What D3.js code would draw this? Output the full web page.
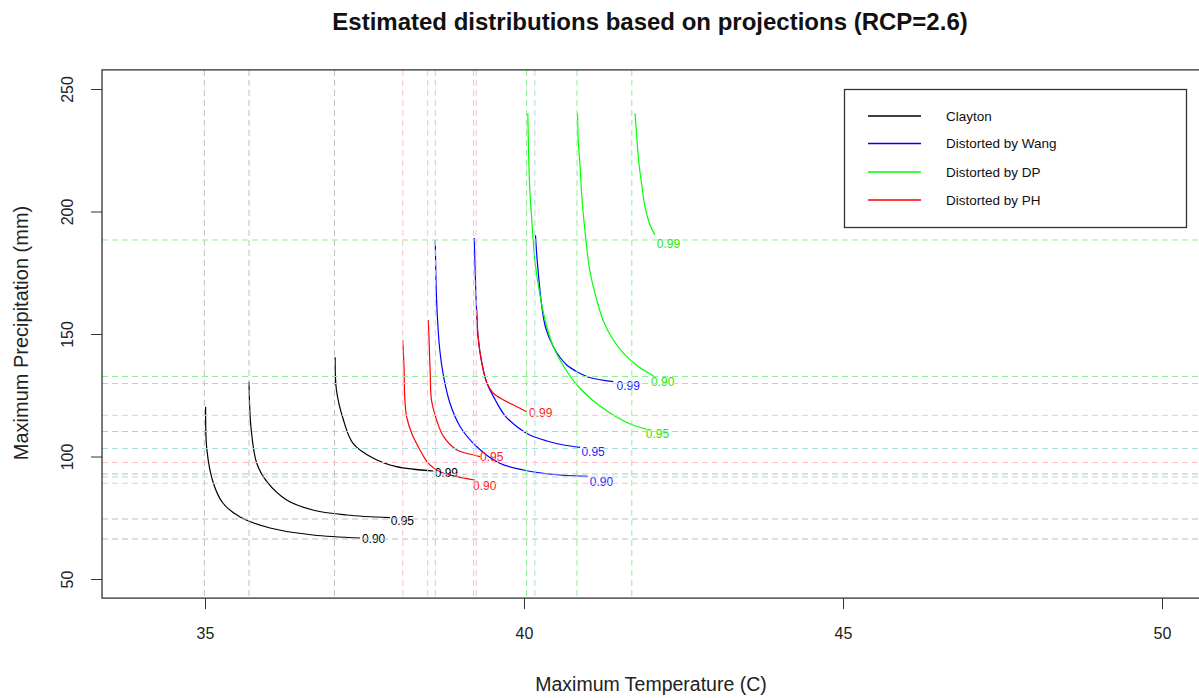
<!DOCTYPE html>
<html>
<head>
<meta charset="utf-8">
<script src="https://cdn.jsdelivr.net/npm/d3@7"></script>
<style>
  body { margin: 0; background: #fff; }
  svg { display: block; font-family: "Liberation Sans", Arial, sans-serif; }
</style>
</head>
<body>
<svg id="chart" width="1199" height="698"></svg>
<script>
// Probability levels of each contour, in drawing order
const levels = ["0.90", "0.95", "0.99"];
const families = ["Clayton", "Distorted by Wang", "Distorted by DP", "Distorted by PH"];
const xTicks = [35, 40, 45, 50];
const yTicks = [50, 100, 150, 200, 250];

// Contour curves: [max temperature (C), max precipitation (mm)], one list per level
const claytonCurves = [
  [[35.01,120.33],[35.03,102.65],[35.13,89.18],[35.28,81.02],[35.55,75.31],[36.02,70.82],[36.69,67.96],[37.43,66.73]],
  [[35.69,130.53],[35.72,112.16],[35.81,97.35],[35.97,89.71],[36.28,82.24],[36.69,78.16],[37.22,76.12],[37.90,75.02]],
  [[37.04,140.49],[37.06,127.14],[37.17,114.90],[37.32,105.39],[37.64,99.27],[38.00,95.84],[38.58,94.08]]
];
const wangCurves = [
  [[38.61,188.37],[38.63,163.88],[38.68,143.47],[38.74,132.57],[38.84,121.71],[39.00,112.16],[39.26,104.0],[39.62,97.22],[39.99,94.49],[40.56,92.45],[41.00,91.9]],
  [[39.22,189.18],[39.23,180.2],[39.25,163.88],[39.28,148.9],[39.34,138.04],[39.42,129.88],[39.55,123.06],[39.70,116.73],[39.89,112.16],[40.09,108.78],[40.36,106.33],[40.62,104.69],[40.88,103.76]],
  [[40.18,190.41],[40.20,182.24],[40.22,176.12],[40.28,161.14],[40.34,152.45],[40.46,144.82],[40.56,140.61],[40.67,137.35],[40.83,134.61],[41.03,132.24],[41.40,130.53]]
];
const dpCurves = [
  [[40.84,240.08],[40.85,229.18],[40.88,218.29],[40.91,204.69],[40.96,191.1],[41.03,176.12],[41.14,163.88],[41.25,154.9],[41.38,148.37],[41.56,142.12],[41.77,137.14],[42.03,132.86]],
  [[40.06,240.08],[40.07,225.92],[40.09,209.59],[40.12,197.35],[40.17,180.2],[40.22,170.69],[40.33,155.71],[40.46,144.82],[40.63,136.53],[40.83,129.18],[41.07,123.06],[41.35,117.76],[41.63,113.67],[41.92,111.1]],
  [[41.74,240.08],[41.76,233.27],[41.78,225.92],[41.81,217.76],[41.85,210.12],[41.88,204.29],[41.92,199.27],[41.97,194.9],[42.05,190.41]]
];
const phCurves = [
  [[38.10,147.55],[38.12,136.0],[38.13,124.41],[38.16,116.24],[38.24,109.47],[38.37,102.65],[38.50,97.22],[38.68,93.80],[38.95,91.76],[39.23,90.41]],
  [[38.50,155.71],[38.51,148.9],[38.53,133.96],[38.55,123.06],[38.63,114.9],[38.74,108.08],[38.95,102.65],[39.21,100.61],[39.31,99.92]],
  [[39.26,159.8],[39.28,148.9],[39.34,138.04],[39.42,129.88],[39.52,125.8],[39.68,123.06],[39.89,120.33],[40.04,118.29]]
];

// Marginal quantiles (reference lines), one per level
const claytonV = [34.99, 35.69, 37.03];
const claytonH = [66.33, 74.49, 92.86];
const wangV = [38.61, 39.21, 40.17];
const wangH = [91.63, 103.27, 129.8];
const dpV = [40.83, 40.04, 41.69];
const dpH = [132.65, 110.2, 188.37];
const phV = [38.10, 38.49, 39.25];
const phH = [89.06, 97.55, 116.8];

// Where each level label sits (left edge, middle)
const claytonLabels = [[37.46,66.33],[37.91,73.67],[38.60,93.27]];
const wangLabels = [[41.03,89.59],[40.90,101.96],[41.45,128.78]];
const dpLabels = [[41.99,130.41],[41.91,109.27],[42.08,186.94]];
const phLabels = [[39.20,87.96],[39.31,99.8],[40.08,117.76]];

const series = [
  { name: families[0], color: "#000000", ref: "#bebebe", text: "#000000", curves: claytonCurves, v: claytonV, h: claytonH, labels: claytonLabels },
  { name: families[1], color: "#0000ff", ref: "#add8e6", text: "#2222ff", curves: wangCurves, v: wangV, h: wangH, labels: wangLabels },
  { name: families[2], color: "#00ff00", ref: "#90ee90", text: "#22e800", curves: dpCurves, v: dpV, h: dpH, labels: dpLabels },
  { name: families[3], color: "#ff0000", ref: "#ffc0cb", text: "#ff2222", curves: phCurves, v: phV, h: phH, labels: phLabels }
];

const svg = d3.select("#chart");
const x = d3.scaleLinear().domain([35, 50]).range([205, 1162]);
const y = d3.scaleLinear().domain([50, 250]).range([579, 89]);
const xlim = [33.386, 50.65];
const ylim = [42.2, 257.8];
const plotLeft = x(xlim[0]), plotRight = x(xlim[1]), plotTop = y(ylim[1]), plotBottom = y(ylim[0]);

svg.append("defs").append("clipPath").attr("id", "plot-clip")
  .append("rect").attr("x", plotLeft).attr("y", plotTop)
  .attr("width", plotRight - plotLeft).attr("height", plotBottom - plotTop);

const plot = svg.append("g").attr("clip-path", "url(#plot-clip)");

const line = d3.line()
  .x(d => x(d[0])).y(d => y(d[1]))
  .curve(d3.curveCatmullRom.alpha(0.5));

// Contour curves
series.forEach(s => {
  plot.append("g").selectAll("path").data(s.curves).join("path")
    .attr("d", line)
    .attr("fill", "none")
    .attr("stroke", s.color)
    .attr("stroke-width", 1.2);
});

// Level labels
series.forEach(s => {
  plot.append("g").selectAll("text").data(s.labels).join("text")
    .attr("x", d => x(d[0]))
    .attr("y", d => y(d[1]))
    .attr("dy", "0.36em")
    .attr("font-size", 12)
    .attr("fill", s.text)
    .text((d, i) => levels[i]);
});

// Dashed quantile reference lines
series.forEach(s => {
  const g = plot.append("g").attr("stroke", s.ref).attr("stroke-width", 1).attr("stroke-dasharray", "6,4");
  g.selectAll("line.v").data(s.v).join("line").attr("class", "v")
    .attr("x1", d => x(d)).attr("x2", d => x(d)).attr("y1", plotTop).attr("y2", plotBottom);
  g.selectAll("line.h").data(s.h).join("line").attr("class", "h")
    .attr("x1", plotLeft).attr("x2", plotRight).attr("y1", d => y(d)).attr("y2", d => y(d));
});

// Plot frame
svg.append("rect")
  .attr("x", plotLeft).attr("y", plotTop)
  .attr("width", plotRight - plotLeft).attr("height", plotBottom - plotTop)
  .attr("fill", "none").attr("stroke", "#333").attr("stroke-width", 1.3);

// Axes
const xAxis = svg.append("g").attr("transform", `translate(0,${plotBottom})`)
  .call(d3.axisBottom(x).tickValues(xTicks).tickSize(11).tickPadding(19).tickFormat(d3.format("d")));
xAxis.select(".domain").remove();
xAxis.selectAll("line").attr("stroke", "#333");
xAxis.selectAll("text").attr("font-size", 16).attr("font-family", "Liberation Sans, Arial, sans-serif").attr("fill", "#222");

const yAxis = svg.append("g").attr("transform", `translate(${plotLeft},0)`)
  .call(d3.axisLeft(y).tickValues(yTicks).tickSize(11).tickFormat(d3.format("d")));
yAxis.select(".domain").remove();
yAxis.selectAll("line").attr("stroke", "#333");
yAxis.selectAll("text")
  .attr("x", null).attr("dy", null)
  .attr("text-anchor", "middle")
  .attr("transform", `translate(${73 - plotLeft},0) rotate(-90)`)
  .attr("font-size", 16).attr("font-family", "Liberation Sans, Arial, sans-serif").attr("fill", "#222");

// Titles
svg.append("text").attr("x", 650).attr("y", 30).attr("text-anchor", "middle")
  .attr("font-size", 24).attr("font-weight", "bold").attr("fill", "#111")
  .text("Estimated distributions based on projections (RCP=2.6)");
svg.append("text").attr("x", 651).attr("y", 691).attr("text-anchor", "middle")
  .attr("font-size", 19.5).attr("fill", "#222")
  .text("Maximum Temperature (C)");
svg.append("text").attr("transform", "translate(28,333) rotate(-90)").attr("text-anchor", "middle")
  .attr("font-size", 20).attr("fill", "#222")
  .text("Maximum Precipitation (mm)");

// Legend
const legend = svg.append("g");
legend.append("rect").attr("x", 844.5).attr("y", 89.5).attr("width", 342).attr("height", 138)
  .attr("fill", "#fff").attr("stroke", "#333").attr("stroke-width", 1.3);
const rows = legend.selectAll("g.row").data(series).join("g").attr("class", "row")
  .attr("transform", (d, i) => `translate(0,${[116, 143.5, 172, 200][i]})`);
rows.append("line").attr("x1", 868).attr("x2", 921).attr("stroke", d => d.color).attr("stroke-width", 1.3);
rows.append("text").attr("x", 946).attr("dy", "0.36em").attr("font-size", 13.5).attr("fill", "#111").text(d => d.name);
</script>
</body>
</html>
